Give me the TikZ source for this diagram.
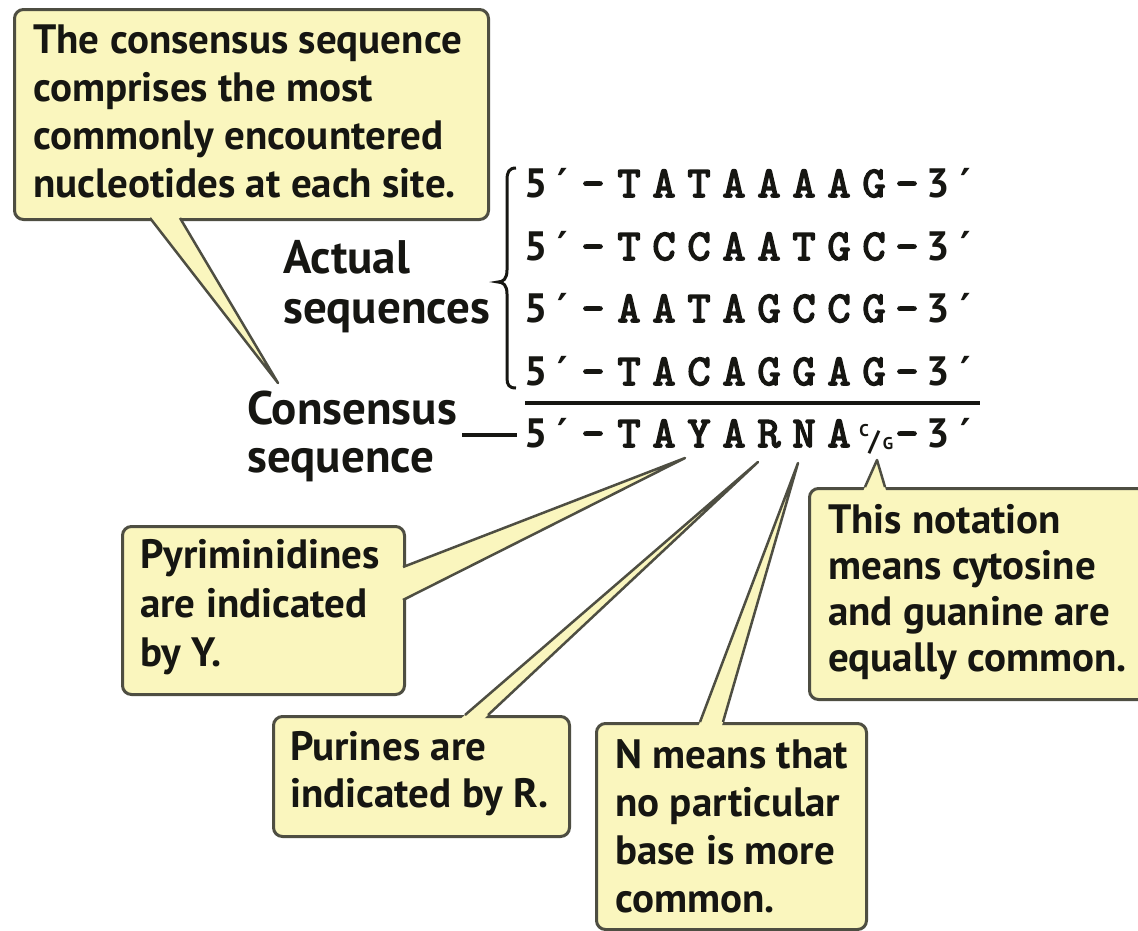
\documentclass[tikz,border=0pt]{standalone}
\usepackage{fontspec}
\setmainfont{PT Sans}
\newfontfamily\seqfont[Extension=.otf,FakeBold=3.5]{lmmono10-regular}
\newfontfamily\primefont{DejaVu Sans}
\usetikzlibrary{calc}

\definecolor{boxfill}{RGB}{250,246,190}
\definecolor{boxline}{RGB}{78,78,66}
\definecolor{ink}{RGB}{22,22,18}

% one strand: 5' end, bases, 3' end
\newcommand{\strandrow}[3]{%
  \node[numtxt] (#1-five) at (536,#2) {5};
  \node[primetxt] (#1-pfive) at (563,#2) {′};
  \node[seqtxt] (#1-dfive) at (593,#2) {-};
  \foreach \b [count=\k from 0] in {#3}
    \node[seqtxt] (#1-\k) at ({629+35*\k},#2) {\b};
}
\newcommand{\strandend}[2]{%
  \node[seqtxt] (#1-dthree) at (907,#2) {-};
  \node[numtxt] (#1-three) at (938,#2) {3};
  \node[primetxt] (#1-pthree) at (966,#2) {′};
}
% wedge-shaped pointer of a callout box
\newcommand{\calltail}[3]{%
  \fill[boxfill] ($(#1)!-6pt!(#2)$) -- (#2) -- ($(#3)!-6pt!(#2)$) -- cycle;
  \draw[tailline] (#1) -- (#2) -- (#3);
}

\begin{document}
\begin{tikzpicture}[x=1pt,y=-1pt,
  callbox/.style={draw=boxline, fill=boxfill, line width=3pt,
    rounded corners=9pt, inner sep=0pt, anchor=north west},
  calltext/.style={font=\bfseries\fontsize{41}{48}\selectfont, text=ink,
    anchor=base west, inner sep=0pt},
  lbl/.style={font=\bfseries\fontsize{47}{49}\selectfont, text=ink,
    anchor=base west, inner sep=0pt},
  seqtxt/.style={font=\seqfont\fontsize{44}{44}\selectfont, text=ink,
    anchor=base, inner sep=0pt},
  numtxt/.style={font=\bfseries\fontsize{41}{41}\selectfont, text=ink,
    anchor=base, inner sep=0pt},
  primetxt/.style={font=\primefont\bfseries\fontsize{40}{40}\selectfont, text=ink,
    anchor=base, inner sep=0pt},
  tinytxt/.style={font=\bfseries\fontsize{17}{17}\selectfont, text=ink,
    anchor=base, inner sep=0pt},
  tailline/.style={draw=boxline, line width=2.5pt, line join=round},
  rulestroke/.style={draw=ink, line width=4pt},
  bracestroke/.style={draw=ink, line width=3pt}
]
\useasboundingbox (0,0) rectangle (1138,930);
\clip (0,0) rectangle (1138,930);
\fill[white] (0,0) rectangle (1138,930);

% ---- callout boxes ----
\node[callbox, minimum width=474pt, minimum height=210pt] (consbox) at (13,8) {};
\node[callbox, minimum width=282pt, minimum height=168pt] (pyrbox) at (121,525) {};
\node[callbox, minimum width=296pt, minimum height=120pt] (purbox) at (272,715) {};
\node[callbox, minimum width=270pt, minimum height=206pt] (nbox) at (595,722) {};
\node[callbox, minimum width=342pt, minimum height=211pt] (cgbox) at (808,487) {};

% ---- pointer tips and bases ----
\coordinate (tipCons) at (278,383);
\coordinate (tipY) at (685,458);
\coordinate (tipR) at (758,462);
\coordinate (tipN) at (798,463);
\coordinate (tipCG) at (877,460);

\coordinate (consA) at (150,218);  \coordinate (consB) at (180,218);
\coordinate (pyrA) at (403,567);   \coordinate (pyrB) at (403,600);
\coordinate (purA) at (465,715);   \coordinate (purB) at (488,715);
\coordinate (nA) at (700,722);     \coordinate (nB) at (723,722);
\coordinate (cgA) at (865,487);    \coordinate (cgB) at (885,487);

\calltail{consA}{tipCons}{consB}
\calltail{pyrA}{tipY}{pyrB}
\calltail{purA}{tipR}{purB}
\calltail{nA}{tipN}{nB}
\calltail{cgA}{tipCG}{cgB}

% ---- callout texts ----
\foreach \t [count=\i from 0] in {The consensus sequence, comprises the most,
    commonly encountered, nucleotides at each site.}
  \node[calltext] (cons-\i) at (33,{53+48*\i}) {\t};
\foreach \t [count=\i from 0] in {Pyriminidines, are indicated, by Y.}
  \node[calltext] (pyr-\i) at (140,{568+49*\i}) {\t};
\foreach \t [count=\i from 0] in {Purines are, indicated by R.}
  \node[calltext] (pur-\i) at (290,{760+47*\i}) {\t};
\foreach \t [count=\i from 0] in {N means that, no particular, base is more, common.}
  \node[calltext] (n-\i) at (615,{768+48*\i}) {\t};
\foreach \t [count=\i from 0] in {This notation, means cytosine,
    and guanine are, equally common.}
  \node[calltext] (cg-\i) at (828,{533+46*\i}) {\t};

% ---- side labels ----
\node[lbl] (actual1) at (283,273) {Actual};
\node[lbl] (actual2) at (283,323) {sequences};
\node[lbl] (consensus1) at (247,424) {Consensus};
\node[lbl] (consensus2) at (247,472) {sequence};

% ---- brace over the four strands ----
\draw[bracestroke] (516,168) .. controls (509,168) and (507,172) .. (507,180)
  -- (507,270) .. controls (507,279) and (503,282) .. (498,282)
  .. controls (503,282) and (507,285) .. (507,294)
  -- (507,378) .. controls (507,385) and (509,388) .. (516,388);

% ---- strands ----
\strandrow{s1}{197}{T,A,T,A,A,A,A,G} \strandend{s1}{197}
\strandrow{s2}{260}{T,C,C,A,A,T,G,C} \strandend{s2}{260}
\strandrow{s3}{322}{A,A,T,A,G,C,C,G} \strandend{s3}{322}
\strandrow{s4}{385}{T,A,C,A,G,G,A,G} \strandend{s4}{385}

% ---- rule and consensus strand ----
\coordinate (ruleL) at (525,403);
\coordinate (ruleR) at (980,403);
\draw[rulestroke] (ruleL) -- (ruleR);

\strandrow{cs}{447}{T,A,Y,A,R,N,A}
\node[tinytxt] (cs-c) at (864,436) {C};
\node[font=\bfseries\fontsize{28}{28}\selectfont, text=ink, anchor=base, inner sep=0pt]
  (cs-slash) at (874,450) {/};
\node[tinytxt] (cs-g) at (888,449) {G};
\strandend{cs}{447}

\coordinate (dashL) at (462,435);
\coordinate (dashR) at (517,435);
\draw[rulestroke] (dashL) -- (dashR);
\end{tikzpicture}
\end{document}
